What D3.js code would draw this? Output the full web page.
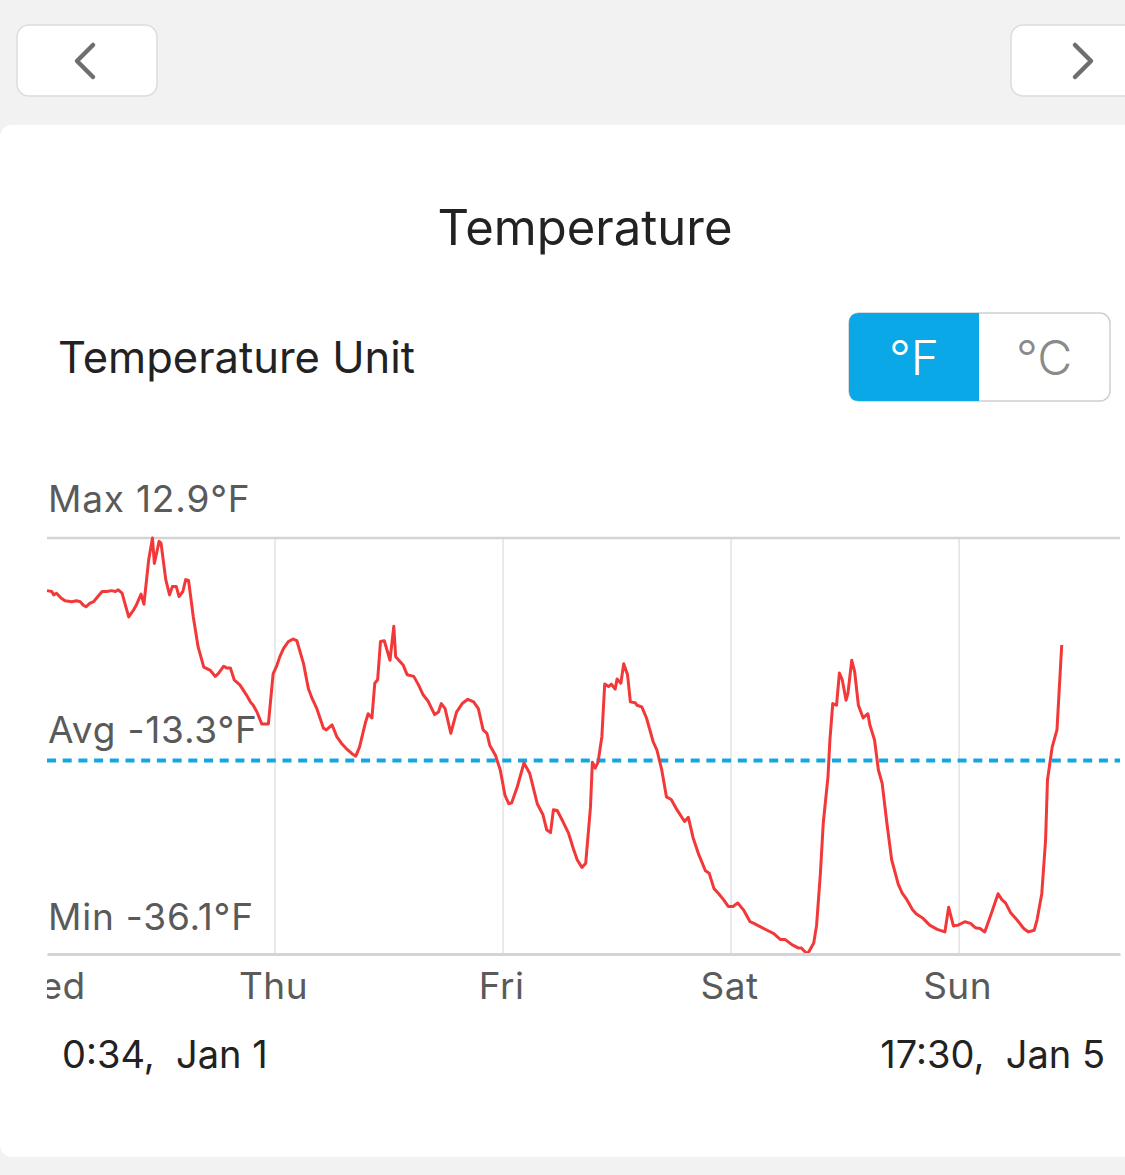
<!DOCTYPE html>
<html>
<head>
<meta charset="utf-8">
<script src="https://cdn.jsdelivr.net/npm/d3@7"></script>
<style>
  html, body { margin: 0; padding: 0; background: #f2f2f2; }
  svg { display: block; font-family: Inter, "Liberation Sans", sans-serif; }
</style>
</head>
<body>
<div id="chart"></div>
<script>
// hours since Wed Jan 1 00:00, and temperature in °F
const hours = [
  0.0, 0.5, 0.7, 1.0, 1.5, 1.9, 2.6, 3.1, 3.5, 3.8, 4.1, 4.5, 4.9, 5.2, 5.8, 6.3, 6.8, 7.2, 7.5, 7.9,
  8.2, 8.6, 9.1, 9.4, 9.9, 10.2, 10.7, 11.1, 11.3, 11.8, 12.0, 12.5, 12.9, 13.2, 13.6, 13.9, 14.3, 14.6, 14.9, 15.4,
  15.9, 16.5, 17.2, 17.7, 18.0, 18.6, 18.9, 19.3, 19.7, 20.3, 21.0, 21.4, 21.7, 22.1, 22.6, 23.3, 23.8, 24.2, 24.5, 24.9,
  25.4, 25.9, 26.3, 27.0, 27.5, 27.9, 28.4, 29.1, 29.4, 30.0, 30.5, 31.0, 31.5, 32.1, 32.5, 32.9, 33.5, 33.8, 34.2, 34.5,
  34.8, 35.1, 35.5, 36.1, 36.5, 36.7, 37.5, 37.9, 38.6, 39.1, 39.6, 40.1, 40.8, 41.2, 41.5, 41.9, 42.5, 43.1, 43.7, 44.3,
  44.9, 45.4, 45.9, 46.3, 46.6, 47.2, 47.7, 48.2, 48.6, 48.9, 49.5, 50.2, 50.8, 51.6, 52.2, 52.6, 53.0, 53.3, 53.7, 54.3,
  54.9, 55.4, 55.8, 56.3, 56.7, 57.2, 57.4, 57.7, 58.0, 58.4, 58.7, 59.1, 59.4, 59.8, 60.0, 60.4, 60.7, 61.1, 61.4, 61.9,
  62.1, 62.6, 63.1, 63.8, 64.2, 64.7, 65.2, 65.7, 66.3, 67.1, 67.5, 68.0, 68.6, 69.3, 69.7, 70.2, 70.7, 71.2, 71.7, 72.2,
  72.7, 73.3, 74.0, 74.4, 75.1, 75.8, 76.5, 77.2, 77.7, 78.4, 79.1, 79.4, 80.0, 80.2, 80.7, 81.0, 81.4, 81.7, 82.2, 82.4,
  82.7, 83.1, 83.4, 83.7, 84.1, 84.3, 84.7, 85.0, 85.4, 85.9, 86.4, 86.6, 87.1, 87.5, 87.9, 88.4, 88.9, 89.6, 90.0, 90.5,
  91.1, 91.5, 92.2, 92.9, 93.7, 94.5, 94.9, 95.4, 95.9, 96.6, 97.2, 97.7, 98.2, 98.7, 99.4, 100.1, 100.5, 100.9, 101.4, 102.1,
  102.8, 103.3, 103.9, 104.2, 104.7, 105.1, 105.3, 105.8, 106.3, 106.8
];
const temps = [
  6.7, 6.6, 6.2, 6.4, 5.8, 5.5, 5.4, 5.5, 5.4, 5.0, 4.8, 5.2, 5.4, 5.8, 6.6, 6.6, 6.7, 6.6, 6.8, 6.4,
  5.2, 3.6, 4.4, 5.0, 6.3, 5.1, 10.3, 12.9, 9.9, 12.5, 12.3, 8.0, 6.2, 7.2, 7.2, 6.0, 6.6, 8.0, 7.9, 3.6,
  0.1, -2.3, -2.7, -3.4, -3.1, -2.2, -2.4, -2.4, -3.8, -4.4, -5.6, -6.4, -6.8, -7.6, -9.0, -9.0, -3.1, -2.1, -1.1, -0.1,
  0.7, 1.0, 0.8, -1.9, -4.8, -6.0, -7.2, -9.5, -9.7, -9.1, -10.5, -11.3, -11.9, -12.5, -12.8, -11.7, -8.9, -7.8, -8.3, -4.2,
  -3.8, 0.7, 0.8, -1.5, 2.5, -1.1, -2.1, -3.2, -3.4, -4.4, -5.6, -6.3, -7.9, -7.6, -6.6, -7.2, -10.1, -7.6, -6.6, -6.1,
  -6.4, -7.2, -9.7, -10.1, -11.5, -12.7, -14.4, -17.4, -18.4, -18.3, -16.4, -13.6, -14.8, -18.4, -19.7, -21.5, -21.8, -19.1, -19.2, -20.5,
  -21.9, -23.7, -25.0, -25.9, -25.4, -18.8, -13.5, -14.2, -13.5, -10.5, -4.3, -4.6, -4.3, -4.9, -3.7, -4.2, -1.9, -3.2, -6.4, -6.5,
  -6.8, -7.0, -8.3, -11.1, -12.1, -14.4, -17.6, -17.9, -19.1, -20.5, -20.0, -22.4, -24.4, -26.3, -26.6, -28.4, -29.0, -29.7, -30.5, -30.5,
  -30.1, -30.9, -32.3, -32.5, -32.9, -33.3, -33.7, -34.4, -34.4, -35.0, -35.4, -35.4, -36.1, -35.8, -34.8, -32.7, -26.6, -20.7, -15.2, -10.9,
  -6.6, -6.8, -3.0, -3.8, -6.2, -5.4, -1.5, -2.8, -6.8, -8.3, -7.8, -9.1, -10.9, -14.4, -16.0, -20.7, -25.0, -27.9, -28.9, -29.7,
  -30.9, -31.4, -31.9, -32.7, -33.2, -33.5, -30.6, -32.8, -32.7, -32.3, -32.5, -33.0, -33.1, -33.5, -31.3, -29.0, -29.7, -30.1, -31.2, -32.1,
  -33.1, -33.5, -33.3, -32.1, -29.0, -22.7, -15.6, -11.7, -9.7, 0.3
];
const maxTemp = 12.9;
const minTemp = -36.1;
const avgTemp = -13.3;
const startLabel = "0:34,  Jan 1";
const endLabel = "17:30,  Jan 5";
const unitLabels = ["°F", "℃"];

const W = 1125, H = 1175;
const t0 = new Date(2025, 0, 1, 0, 0);
const t1 = new Date(2025, 0, 5, 16, 56);
const data = hours.map((h, i) => ({ date: new Date(t0.getTime() + h * 3600e3), value: temps[i] }));

const svg = d3.select("#chart").append("svg").attr("width", W).attr("height", H);

// page chrome
svg.append("rect").attr("width", W).attr("height", H).attr("fill", "#f2f2f2");
svg.append("rect").attr("x", 0).attr("y", 125).attr("width", W + 20).attr("height", 1032)
  .attr("rx", 12).attr("fill", "#fff");

function navButton(x, w, dir) {
  svg.append("rect").attr("x", x).attr("y", 25).attr("width", w).attr("height", 71).attr("rx", 12)
    .attr("fill", "#fff").attr("stroke", "#dcdcdc").attr("stroke-width", 1.5);
  const cx = dir < 0 ? 85 : 1083;
  svg.append("path")
    .attr("d", `M${cx - dir * 8},45 L${cx + dir * 8},61 L${cx - dir * 8},77`)
    .attr("fill", "none").attr("stroke", "#6e6e6e").attr("stroke-width", 4.5)
    .attr("stroke-linecap", "round").attr("stroke-linejoin", "round");
}
navButton(17, 140, -1);
navButton(1011, 140, 1);

svg.append("text").attr("x", 585).attr("y", 245).attr("text-anchor", "middle")
  .attr("font-size", 49).attr("fill", "#222").text("Temperature");

svg.append("text").attr("x", 58).attr("y", 373)
  .attr("font-size", 43.5).attr("fill", "#222").text("Temperature Unit");

// segmented control
const seg = svg.append("g");
seg.append("rect").attr("x", 849).attr("y", 313).attr("width", 261).attr("height", 88).attr("rx", 10)
  .attr("fill", "#fff").attr("stroke", "#cfcfcf").attr("stroke-width", 1.5);
seg.append("path")
  .attr("d", "M979,313 V401 H859 Q849,401 849,391 V323 Q849,313 859,313 Z")
  .attr("fill", "#0aa8e6");
seg.selectAll("text").data(unitLabels).join("text")
  .attr("x", (d, i) => i === 0 ? 914 : 1044).attr("y", 375).attr("text-anchor", "middle")
  .attr("font-size", 48).attr("font-weight", 300)
  .attr("fill", (d, i) => i === 0 ? "#fff" : "#8a8a8a").text(d => d);

// chart
const x = d3.scaleTime().domain([t0, t1]).range([47, 1120]);
const y = d3.scaleLinear().domain([minTemp, maxTemp]).range([954, 538]);

const days = d3.timeDay.range(t0, t1);

svg.append("g").selectAll("line").data(days.slice(1)).join("line")
  .attr("x1", d => x(d)).attr("x2", d => x(d)).attr("y1", y(maxTemp)).attr("y2", y(minTemp))
  .attr("stroke", "#e3e3e3").attr("stroke-width", 1.5);

svg.append("line").attr("x1", 47).attr("x2", 1120).attr("y1", y(maxTemp)).attr("y2", y(maxTemp))
  .attr("stroke", "#d4d4d4").attr("stroke-width", 2.5);

const labelStyle = sel => sel.attr("font-size", 37).attr("letter-spacing", 0.8).attr("fill", "#5a5a5a");
svg.append("text").attr("x", 48).attr("y", 512).text(`Max ${maxTemp}°F`).call(labelStyle);
svg.append("text").attr("x", 48).attr("y", 743).text(`Avg ${avgTemp}°F`).call(labelStyle);
svg.append("text").attr("x", 48).attr("y", 930).text(`Min ${minTemp}°F`).call(labelStyle);

svg.append("line").attr("x1", 47).attr("x2", 1120).attr("y1", y(avgTemp)).attr("y2", y(avgTemp))
  .attr("stroke", "#14a6e2").attr("stroke-width", 4).attr("stroke-dasharray", "9,6.7");

svg.append("path").datum(data)
  .attr("d", d3.line().x(d => x(d.date)).y(d => y(d.value)))
  .attr("fill", "none").attr("stroke", "#f23838").attr("stroke-width", 3)
  .attr("stroke-linejoin", "round");

// x axis, clipped at the plot's left edge
svg.append("clipPath").attr("id", "xclip").append("rect")
  .attr("x", 47).attr("y", 940).attr("width", 1080).attr("height", 90);
const xAxis = svg.append("g").attr("clip-path", "url(#xclip)")
  .append("g").attr("transform", `translate(0,${y(minTemp)})`)
  .call(d3.axisBottom(x).tickValues(days).tickFormat(d3.timeFormat("%a")).tickSize(0).tickPadding(19));
xAxis.select(".domain").attr("stroke", "#d4d4d4").attr("stroke-width", 3);
xAxis.selectAll("text").attr("font-size", 37).attr("letter-spacing", 0.5).attr("fill", "#5a5a5a")
  .attr("dx", -2).attr("font-family", "Inter, 'Liberation Sans', sans-serif");

svg.append("text").attr("x", 62).attr("y", 1068).attr("font-size", 38).attr("fill", "#222")
  .style("white-space", "pre").text(startLabel);
svg.append("text").attr("x", 1105).attr("y", 1068).attr("text-anchor", "end").attr("font-size", 38)
  .attr("fill", "#222").style("white-space", "pre").text(endLabel);
</script>
</body>
</html>
